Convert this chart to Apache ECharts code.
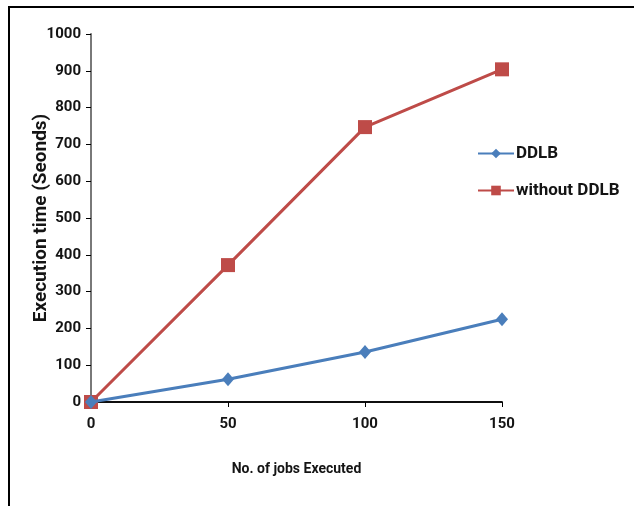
<!DOCTYPE html>
<html>
<head>
<meta charset="utf-8">
<script src="https://cdn.jsdelivr.net/npm/echarts@6/dist/echarts.min.js"></script>
<style>
  html, body { margin: 0; padding: 0; background: #fff; }
  #chart { width: 634px; height: 506px; }
</style>
</head>
<body>
<div id="chart"></div>
<script>
// Jobs executed (x) against execution time in seconds (y)
const jobs = [0, 50, 100, 150];
const ddlbTimes = [0, 62, 136, 225];
const withoutDdlbTimes = [0, 372, 747, 904];
const seriesNames = ['DDLB', 'without DDLB'];
const xTicks = [0, 50, 100, 150];
const yTicks = [0, 100, 200, 300, 400, 500, 600, 700, 800, 900, 1000];

const FONT = 'Roboto, sans-serif';
const TEXT = '#141414';
const toPairs = (xs, ys) => xs.map((x, i) => [x, ys[i]]);

const chart = echarts.init(document.getElementById('chart'), null, { renderer: 'canvas' });

chart.setOption({
  backgroundColor: '#ffffff',
  animation: false,
  textStyle: { fontFamily: FONT },
  graphic: [{
    type: 'rect',
    shape: { x: 9, y: 7, width: 800, height: 700 },
    style: { fill: 'none', stroke: '#000', lineWidth: 2 },
    z: 0
  }],
  grid: { left: 91, top: 34, right: 132, bottom: 104, containLabel: false },
  legend: {
    orient: 'vertical',
    left: 477,
    top: 145,
    padding: 0,
    itemGap: 20,
    itemWidth: 36,
    itemHeight: 12,
    data: seriesNames,
    textStyle: { fontFamily: FONT, fontSize: 17, fontWeight: 'bold', color: TEXT, padding: [0, 0, 0, -3] }
  },
  xAxis: [{
    type: 'value',
    min: xTicks[0],
    max: xTicks[xTicks.length - 1],
    interval: 50,
    name: 'No. of jobs Executed',
    nameLocation: 'middle',
    nameGap: 60,
    nameTextStyle: { fontFamily: FONT, fontSize: 14, fontWeight: 'bold', color: TEXT },
    axisLine: { lineStyle: { color: '#000', width: 1.5 } },
    axisTick: { inside: false, length: 5, lineStyle: { color: '#000' } },
    axisLabel: { margin: 15, fontFamily: FONT, fontSize: 15, fontWeight: 'bold', color: TEXT },
    splitLine: { show: false }
  }, {
    type: 'value',
    position: 'top',
    min: 0, max: 150,
    axisLine: { show: true, lineStyle: { color: '#000', width: 1.5 } },
    axisTick: { show: false },
    axisLabel: { show: false },
    splitLine: { show: false }
  }],
  yAxis: [{
    type: 'value',
    min: yTicks[0],
    max: yTicks[yTicks.length - 1],
    interval: 100,
    name: 'Execution time (Seonds)',
    nameLocation: 'middle',
    nameGap: 40,
    nameMoveOverlap: false,
    nameRotate: 90,
    nameTextStyle: { fontFamily: FONT, fontSize: 19, fontWeight: 'bold', color: TEXT },
    axisLine: { show: true, lineStyle: { color: '#000', width: 1.5 } },
    axisTick: { show: true, inside: false, length: 5, lineStyle: { color: '#000' } },
    axisLabel: {
      margin: 10, fontFamily: FONT, fontSize: 15, fontWeight: 'bold', color: TEXT,
      formatter: v => String(v)
    },
    splitLine: { show: false }
  }, {
    type: 'value',
    position: 'right',
    min: 0, max: 1000,
    axisLine: { show: true, lineStyle: { color: '#8c8c8c', width: 1.5 } },
    axisTick: { show: false },
    axisLabel: { show: false },
    splitLine: { show: false }
  }],
  series: [{
    name: seriesNames[0],
    type: 'line',
    data: toPairs(jobs, ddlbTimes),
    symbol: 'diamond',
    symbolSize: [12, 14],
    lineStyle: { color: '#4A7EBB', width: 3 },
    itemStyle: { color: '#4A7EBB' },
    z: 3
  }, {
    name: seriesNames[1],
    type: 'line',
    data: toPairs(jobs, withoutDdlbTimes),
    symbol: 'rect',
    symbolSize: 14,
    lineStyle: { color: '#BE4B48', width: 3 },
    itemStyle: { color: '#BE4B48' },
    z: 2
  }]
});
</script>
</body>
</html>
